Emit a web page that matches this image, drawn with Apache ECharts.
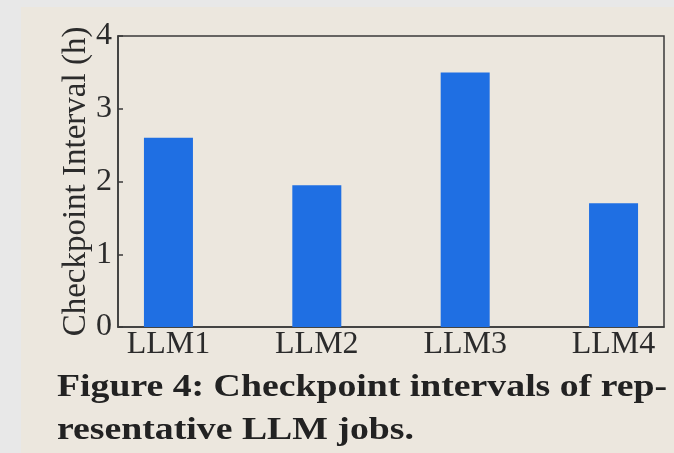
<!DOCTYPE html>
<html>
<head>
<meta charset="utf-8">
<script src="https://cdn.jsdelivr.net/npm/echarts@6/dist/echarts.min.js"></script>
<style>
  html, body { margin: 0; padding: 0; background: #e8e8e8; }
  #chart { width: 674px; height: 453px; }
</style>
</head>
<body>
<div id="chart"></div>
<script>
  // data
  var jobs = ['LLM1', 'LLM2', 'LLM3', 'LLM4'];
  var intervals = [2.6, 1.95, 3.5, 1.7];
  var yTicks = [0, 1, 2, 3, 4];
  var captionLines = ['Figure 4: Checkpoint intervals of rep-', 'resentative LLM jobs.'];

  var serif = '"Liberation Serif", "DejaVu Serif", serif';
  var ink = '#2b2b2b';

  var chart = echarts.init(document.getElementById('chart'));

  var option = {
    animation: false,
    backgroundColor: '#e8e8e8',
    grid: {
      left: 118, top: 36, right: 10, bottom: 126,
      show: true, borderColor: '#3a3a3a', borderWidth: 1.5,
      backgroundColor: 'transparent'
    },
    graphic: [
      {
        type: 'rect', z: -10, silent: true,
        shape: { x: 21, y: 7, width: 674 - 21, height: 453 - 7 },
        style: { fill: '#ece7de' }
      },
      // caption, stretched a bit sideways like the paper font
      {
        type: 'text', x: 57, y: 372, scaleX: 1.18,
        style: { text: captionLines[0], font: 'bold 32px ' + serif, fill: '#222' }
      },
      {
        type: 'text', x: 57, y: 415, scaleX: 1.18,
        style: { text: captionLines[1], font: 'bold 32px ' + serif, fill: '#222' }
      }
    ],
    xAxis: {
      type: 'value',
      min: -0.34, max: 3.34,
      axisLine: { show: true, lineStyle: { color: '#3a3a3a', width: 1.5 } },
      axisTick: { show: false },
      splitLine: { show: false },
      axisLabel: {
        customValues: [0, 1, 2, 3],
        formatter: function (v) { return jobs[Math.round(v)]; },
        fontFamily: serif, fontSize: 32, color: ink, margin: 2
      }
    },
    yAxis: {
      type: 'value',
      min: yTicks[0], max: yTicks[yTicks.length - 1], interval: 1,
      name: 'Checkpoint Interval (h)',
      nameLocation: 'middle', nameGap: 25, nameMoveOverlap: false,
      nameTextStyle: { fontFamily: serif, fontSize: 33, color: ink },
      axisLine: { show: true, onZero: false, lineStyle: { color: '#3a3a3a', width: 1.5 } },
      axisTick: { show: true, inside: true, length: 5, lineStyle: { color: '#3a3a3a', width: 1.5 } },
      splitLine: { show: false },
      axisLabel: { fontFamily: serif, fontSize: 32, color: ink, margin: 6, padding: [4, 0, 0, 0] }
    },
    series: [
      {
        type: 'bar',
        barWidth: 49,
        itemStyle: { color: '#1f6fe3' },
        data: intervals.map(function (v, i) { return [i, v]; })
      }
    ]
  };

  chart.setOption(option);
</script>
</body>
</html>
